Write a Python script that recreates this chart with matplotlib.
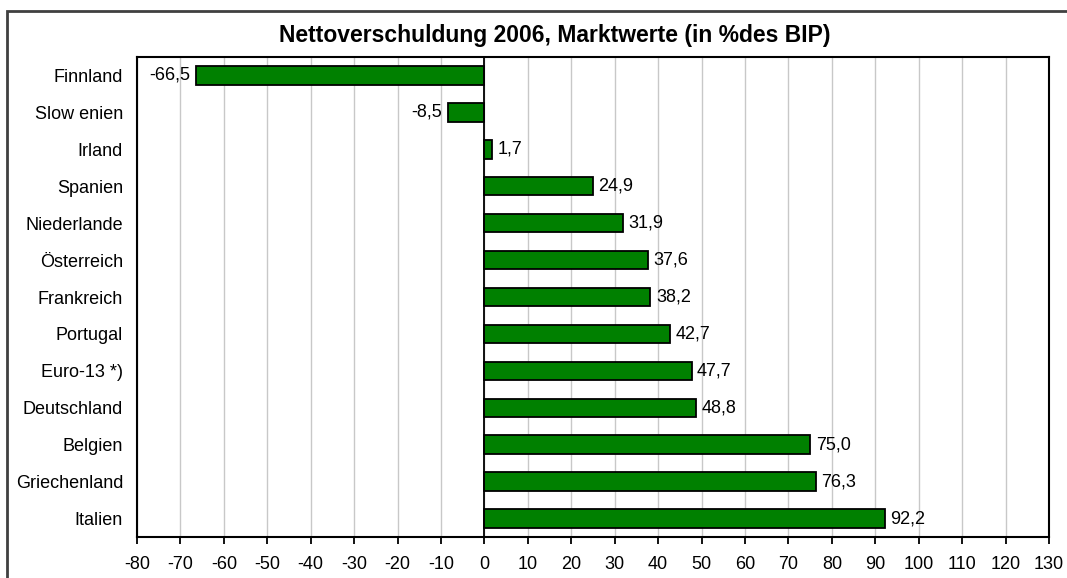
import matplotlib.pyplot as plt
from matplotlib.patches import Rectangle

plt.rcParams['font.family'] = ['Liberation Sans', 'DejaVu Sans']

countries = ['Finnland', 'Slow enien', 'Irland', 'Spanien', 'Niederlande', 'Österreich',
             'Frankreich', 'Portugal', 'Euro-13 *)', 'Deutschland', 'Belgien',
             'Griechenland', 'Italien']
values = [-66.5, -8.5, 1.7, 24.9, 31.9, 37.6, 38.2, 42.7, 47.7, 48.8, 75.0, 76.3, 92.2]
ticks = list(range(-80, 131, 10))

fig = plt.figure(figsize=(10.67, 5.78), dpi=100)
ax = fig.add_axes([0.1284, 0.0709, 0.8547, 0.8305])

ypos = list(range(len(countries)))
ax.barh(ypos, values, height=0.5, color='#008000', edgecolor='black', linewidth=1.3, zorder=3)
ax.set_ylim(len(countries) - 0.5, -0.5)
ax.set_xlim(-80, 130)
ax.set_xticks(ticks)
ax.set_xticklabels([str(t) for t in ticks], fontsize=13)
ax.set_yticks(ypos)
ax.set_yticklabels(countries, fontsize=13)
ax.tick_params(axis='y', length=0, pad=10)
ax.tick_params(axis='x', direction='out', length=5, width=1.3, pad=9)
ax.grid(axis='x', color='#c8c8c8', linewidth=1, zorder=0)
ax.axvline(0, color='black', linewidth=1.3, zorder=4)
for s in ax.spines.values():
    s.set_linewidth(1.5)

for y, v in zip(ypos, values):
    txt = f"{v:.1f}".replace('.', ',')
    if v < 0:
        ax.annotate(txt, (v, y), xytext=(-4, 0), textcoords='offset points',
                    ha='right', va='center', fontsize=13)
    else:
        ax.annotate(txt, (v, y), xytext=(4, 0), textcoords='offset points',
                    ha='left', va='center', fontsize=13)

fig.text(0.52, 0.939, 'Nettoverschuldung 2006, Marktwerte (in %des BIP)',
         ha='center', va='center', fontsize=16.5, fontweight='bold')

fig.patches.append(Rectangle((7 / 1067, -0.05), 1.1, 1.05 - 11 / 578,
                             transform=fig.transFigure, fill=False,
                             edgecolor='#404040', linewidth=2))

fig.savefig('out.png', dpi=100)
